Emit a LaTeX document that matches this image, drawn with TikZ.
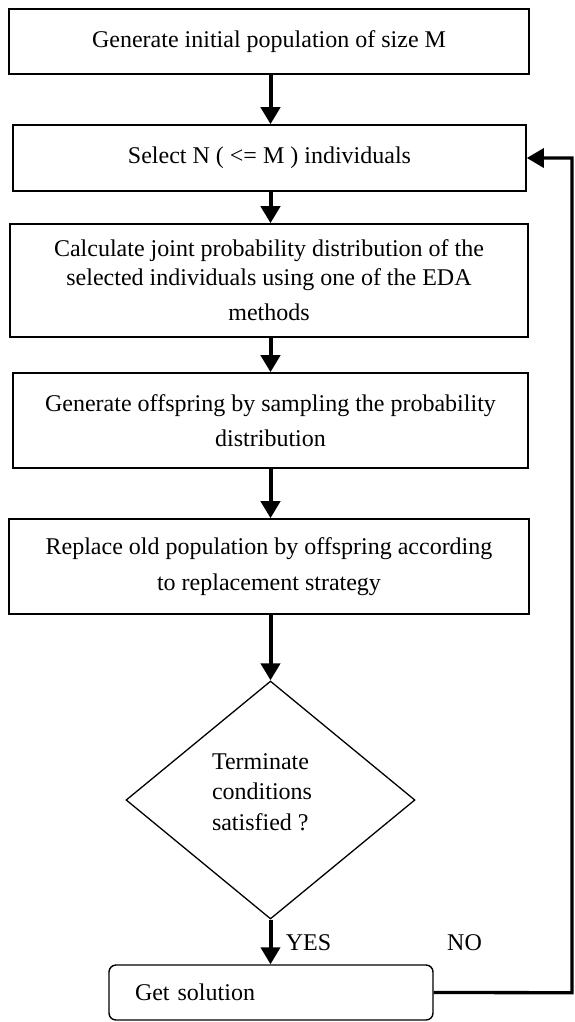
\documentclass[tikz,border=0pt]{standalone}
\usepackage{fontspec}
\setmainfont{Liberation Serif}
\usetikzlibrary{shapes.geometric,arrows.meta}
\begin{document}
\begin{tikzpicture}[x=1pt,y=-1pt,
  every node/.style={font=\fontsize{24}{35}\selectfont},
  stepbox/.style={draw,line width=1.6pt,rectangle,align=center,inner sep=0pt},
  flow/.style={line width=4pt,-{Triangle[length=17pt,width=19pt]}},
  loopline/.style={line width=3.3pt,-{Triangle[length=17pt,width=19pt]}}]
\useasboundingbox (0,0) rectangle (574,1022);
\node[stepbox,minimum width=520pt,minimum height=65pt] (init) at (269,41.5) {Generate initial population of size M};
\node[stepbox,minimum width=513pt,minimum height=66pt] (sel) at (269.5,158) {Select N ( \textless= M ) individuals};
\node[stepbox,minimum width=518pt,minimum height=113pt,font=\fontsize{24}{29}\selectfont] (calc) at (269,280.5) {Calculate joint probability distribution of the\\selected individuals using one of the EDA\\[6pt]methods};
\node[stepbox,minimum width=515pt,minimum height=95pt] (gen) at (270.5,420.5) {Generate offspring by sampling the probability\\distribution};
\node[stepbox,minimum width=520pt,minimum height=95pt,font=\fontsize{24}{36}\selectfont] (rep) at (269,566.5) {Replace old population by offspring according\\to replacement strategy};
\node[draw,diamond,line width=1.3pt,minimum width=289pt,minimum height=238pt,aspect=1.21,inner sep=0pt] (dec) at (270.5,800) {};
\node[align=left,font=\fontsize{24}{30.5}\selectfont,inner sep=0pt] (dectext) at (262,792) {Terminate\\conditions\\satisfied ?};
\node[draw,line width=1.4pt,rounded corners=7pt,minimum width=324pt,minimum height=55pt,text width=272pt,inner xsep=26pt,inner ysep=0pt,align=left] (sol) at (271,992.5) {\raisebox{-3pt}{Get solution}};
\node[inner sep=0pt] (yes) at (308.5,943) {YES};
\node[inner sep=0pt] (no) at (464.5,943) {NO};
\coordinate (loopc) at (572,992.7);
\draw[flow] (init.south -| 270.5,0) -- (sel.north -| 270.5,0);
\draw[flow] (sel.south -| 270.5,0) -- (calc.north -| 270.5,0);
\draw[flow] (calc.south -| 270.5,0) -- (gen.north -| 270.5,0);
\draw[flow] (gen.south -| 270.5,0) -- (rep.north -| 270.5,0);
\draw[flow] (rep.south -| 270.5,0) -- (dec.north);
\draw[flow] (dec.south) -- (sol.north -| 270.5,0);
\draw[loopline] (sol.east) -- (loopc) |- (sel.east);
\end{tikzpicture}
\end{document}
